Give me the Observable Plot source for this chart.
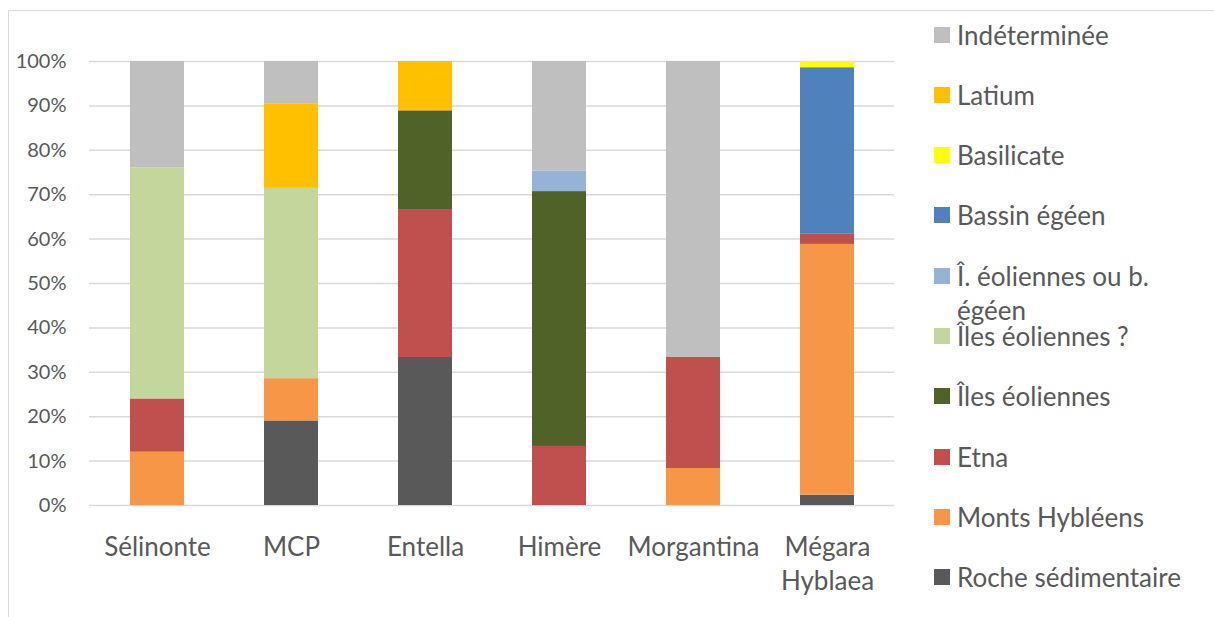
<!DOCTYPE html>
<html>
<head>
<meta charset="utf-8">
<script src="https://cdn.jsdelivr.net/npm/d3@7"></script>
<script src="https://cdn.jsdelivr.net/npm/@observablehq/plot@0.6"></script>
<style>
  html, body { margin: 0; padding: 0; background: #fff; overflow: hidden; }
  #wrap { position: relative; width: 1214px; height: 617px; overflow: hidden; font-family: Lato, "Open Sans", sans-serif; }
  #frame { position: absolute; left: 8px; top: 10px; width: 2000px; height: 2000px;
           border-left: 1px solid #D9D9D9; border-top: 1px solid #D9D9D9; }
  #chart { position: absolute; left: 0; top: 0; }
  .leg { position: absolute; left: 934px; height: 26px; display: flex; align-items: center;
         font-size: 26px; color: #595959; white-space: nowrap; line-height: 26px; }
  .sw { width: 16px; height: 16px; margin-right: 7px; flex: none; }
  .leg2 { position: absolute; left: 957px; height: 26px; line-height: 26px; font-size: 26px; color: #595959; white-space: nowrap; }
</style>
</head>
<body>
<div id="wrap">
  <div id="frame"></div>
  <div id="chart"></div>
</div>
<script>
// Categories (sites)
const sites = ["Sélinonte", "MCP", "Entella", "Himère", "Morgantina", "Mégara Hyblaea"];

// Series values (%), stacked bottom to top
const rocheSedimentaire   = [0,     19.05, 33.33, 0,    0,     2.3];
const montsHybleens       = [12,    9.52,  0,     0,    8.33,  56.5];
const etna                = [12,    0,     33.33, 13.3, 25,    2.4];
const ilesEoliennes       = [0,     0,     22.22, 57.4, 0,     0];
const ilesEoliennesQ      = [52,    42.86, 0,     0,    0,     0];
const ileOuEgeen          = [0,     0,     0,     4.6,  0,     0];
const bassinEgeen         = [0,     0,     0,     0,    0,     37.4];
const basilicate          = [0,     0,     0,     0,    0,     1.4];
const latium              = [0,     19.05, 11.11, 0,    0,     0];
const indeterminee        = [24,    9.52,  0,     24.7, 66.67, 0];

// Series names (bottom to top) and colours
const seriesNames = ["Roche sédimentaire", "Monts Hybléens", "Etna", "Îles éoliennes", "Îles éoliennes ?",
  "Î. éoliennes ou b. égéen", "Bassin égéen", "Basilicate", "Latium", "Indéterminée"];
const seriesColors = ["#595959", "#F79646", "#C0504D", "#4F6228", "#C3D69B",
  "#95B3D7", "#4F81BD", "#FFFF00", "#FFC000", "#BFBFBF"];
const seriesValues = [rocheSedimentaire, montsHybleens, etna, ilesEoliennes, ilesEoliennesQ,
  ileOuEgeen, bassinEgeen, basilicate, latium, indeterminee];

// Y tick values
const yTicks = [0, 10, 20, 30, 40, 50, 60, 70, 80, 90, 100];

const data = [];
seriesNames.forEach((s, i) => {
  sites.forEach((site, j) => data.push({site, series: s, value: seriesValues[i][j]}));
});

const chart = Plot.plot({
  width: 1214,
  height: 617,
  marginLeft: 89,
  marginRight: 320,
  marginTop: 61,
  marginBottom: 112,
  style: {color: "#595959", fontFamily: "Lato, 'Open Sans', sans-serif", background: "transparent"},
  x: {domain: sites, paddingInner: 0.6, paddingOuter: 0.3, label: null},
  y: {domain: [0, 100], label: null},
  color: {domain: seriesNames, range: seriesColors},
  marks: [
    Plot.gridY(yTicks, {stroke: "#D9D9D9", strokeOpacity: 1, strokeWidth: 1.5}),
    Plot.barY(data, {x: "site", y: "value", fill: "series"}),
    Plot.axisY(yTicks, {tickSize: 0, tickPadding: 23, fontSize: 20, tickFormat: d => d + "%"}),
    Plot.axisX({tickSize: 0, tickPadding: 26, fontSize: 26, lineHeight: 1.31,
                tickFormat: d => d.replace(" ", "\n")})
  ]
});
document.getElementById("chart").appendChild(chart);

// Legend (top to bottom = reverse stacking order)
const wrap = document.getElementById("wrap");
const legendOrder = seriesNames.map((n, i) => i).reverse();
legendOrder.forEach((idx, k) => {
  const cy = 34.5 + 60.3 * k;
  const div = document.createElement("div");
  div.className = "leg";
  div.style.top = (cy - 13) + "px";
  const sw = document.createElement("span");
  sw.className = "sw";
  sw.style.background = seriesColors[idx];
  div.appendChild(sw);
  const name = seriesNames[idx];
  const t = document.createElement("span");
  if (name === "Î. éoliennes ou b. égéen") {
    t.textContent = "Î. éoliennes ou b.";
    const d2 = document.createElement("div");
    d2.className = "leg2";
    d2.style.top = (cy - 13 + 34) + "px";
    d2.textContent = "égéen";
    wrap.appendChild(d2);
  } else {
    t.textContent = name;
  }
  div.appendChild(t);
  wrap.appendChild(div);
});
</script>
</body>
</html>
